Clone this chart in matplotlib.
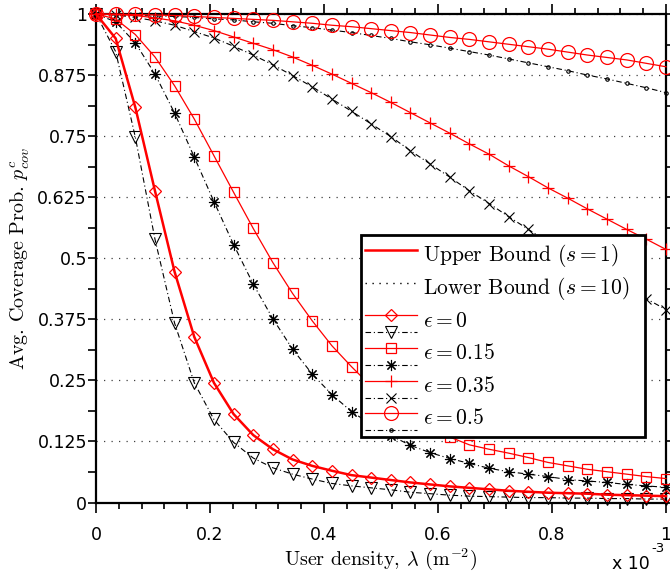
import matplotlib
matplotlib.use("Agg")
import matplotlib.pyplot as plt
import numpy as np
from matplotlib.legend_handler import HandlerLine2D
from matplotlib.lines import Line2D
from matplotlib.ticker import MultipleLocator, FuncFormatter

plt.rcParams['mathtext.fontset'] = 'cm'

# user density (m^-2), 30 evaluation points
lam = np.linspace(0, 1e-3, 30)

# coverage probability, upper bound (s=1) and lower bound (s=10)
eps0_up = [1.0, 0.950, 0.809, 0.638, 0.472, 0.339, 0.245, 0.181, 0.138, 0.109,
           0.088, 0.075, 0.065, 0.056, 0.051, 0.046, 0.041, 0.037, 0.033, 0.030,
           0.027, 0.024, 0.022, 0.020, 0.019, 0.018, 0.016, 0.015, 0.014, 0.013]
eps0_lo = [1.0, 0.923, 0.748, 0.539, 0.367, 0.245, 0.170, 0.123, 0.091, 0.071,
           0.058, 0.048, 0.039, 0.034, 0.030, 0.026, 0.021, 0.018, 0.015, 0.013,
           0.012, 0.011, 0.010, 0.010, 0.009, 0.009, 0.008, 0.008, 0.007, 0.007]
eps15_up = [1.0, 0.990, 0.958, 0.912, 0.853, 0.785, 0.710, 0.635, 0.561, 0.491,
            0.428, 0.372, 0.321, 0.278, 0.238, 0.204, 0.176, 0.153, 0.134, 0.118,
            0.109, 0.101, 0.092, 0.082, 0.075, 0.068, 0.063, 0.058, 0.053, 0.049]
eps15_lo = [1.0, 0.984, 0.941, 0.877, 0.797, 0.707, 0.616, 0.528, 0.447, 0.376,
            0.314, 0.263, 0.221, 0.186, 0.160, 0.137, 0.117, 0.102, 0.090, 0.080,
            0.070, 0.063, 0.058, 0.053, 0.047, 0.044, 0.041, 0.037, 0.034, 0.031]
eps35_up = [1.0, 0.999, 0.997, 0.992, 0.986, 0.977, 0.966, 0.953, 0.940, 0.927,
            0.912, 0.895, 0.877, 0.858, 0.839, 0.819, 0.798, 0.777, 0.756, 0.734,
            0.713, 0.689, 0.667, 0.644, 0.623, 0.601, 0.580, 0.559, 0.539, 0.518]
eps35_lo = [1.0, 0.998, 0.993, 0.986, 0.977, 0.964, 0.951, 0.934, 0.916, 0.896,
            0.874, 0.851, 0.826, 0.801, 0.775, 0.749, 0.720, 0.693, 0.666, 0.638,
            0.612, 0.585, 0.559, 0.533, 0.508, 0.484, 0.461, 0.439, 0.417, 0.395]
eps50_up = [1.0, 0.9995, 0.999, 0.998, 0.997, 0.995, 0.993, 0.991, 0.989, 0.987,
            0.984, 0.981, 0.977, 0.974, 0.970, 0.966, 0.962, 0.957, 0.952, 0.948,
            0.943, 0.938, 0.933, 0.928, 0.922, 0.916, 0.911, 0.906, 0.899, 0.892]
eps50_lo = [1.0, 0.998, 0.997, 0.996, 0.995, 0.993, 0.990, 0.988, 0.984, 0.981,
            0.976, 0.972, 0.967, 0.962, 0.956, 0.950, 0.943, 0.937, 0.930, 0.923,
            0.916, 0.908, 0.900, 0.892, 0.884, 0.875, 0.867, 0.858, 0.849, 0.839]

eps_labels = [r'$\epsilon=0$', r'$\epsilon=0.15$', r'$\epsilon=0.35$', r'$\epsilon=0.5$']
x_ticks = [0, 0.2e-3, 0.4e-3, 0.6e-3, 0.8e-3, 1e-3]
y_ticks = [0, 0.125, 0.25, 0.375, 0.5, 0.625, 0.75, 0.875, 1]

RED = '#ff0000'
dashdot = (0, (5, 2.5, 1, 2.5))
serif = 'cmr10'


class PairHandler(HandlerLine2D):
    # red curve on the text row, black curve one half-row below
    def create_artists(self, legend, orig_handle, xdescent, ydescent,
                       width, height, fontsize, trans):
        out = []
        for h, dy in zip(orig_handle, (0.0, -12.2)):
            arts = super().create_artists(legend, h, xdescent, ydescent,
                                          width, height, fontsize, trans)
            for a in arts:
                a.set_ydata(np.asarray(a.get_ydata()) + dy)
            out += arts
        return out


fig = plt.figure(figsize=(6.7, 5.78), dpi=100)
ax = fig.add_axes([96/670, 1-502.5/578, 570/670, 488.5/578])

ups = [(eps0_up, 'D', 6.5, 1.8), (eps15_up, 's', 7.5, 0.9),
       (eps35_up, '+', 8, 0.9), (eps50_up, 'o', 10, 0.9)]
los = [(eps0_lo, 'v', 8.5), (eps15_lo, (8, 2, 0), 8),
       (eps35_lo, 'x', 6.5), (eps50_lo, '.', 5)]

pairs = []
for (yu, mu, su, lw), (yl, ml, sl) in zip(ups, los):
    lb, = ax.plot(lam, yl, color='k', lw=0.8, linestyle=dashdot, marker=ml,
                  ms=sl, mfc='none', mec='k', mew=0.8, clip_on=False, zorder=2)
    lr, = ax.plot(lam, yu, color=RED, lw=lw, marker=mu, ms=su, mfc='none',
                  mec=RED, mew=0.9, clip_on=False, zorder=3)
    pairs.append((lr, lb))
# thin legend handle for eps=0
pairs[0] = (Line2D([], [], color=RED, lw=0.9, marker='D', ms=6.5, mfc='none',
                   mec=RED, mew=0.9), pairs[0][1])

ax.set_xlim(0, 1e-3)
ax.set_ylim(0, 1)
ax.set_xticks(x_ticks)
ax.xaxis.set_minor_locator(MultipleLocator(0.04e-3))
ax.xaxis.set_major_formatter(FuncFormatter(lambda v, p: f"{v*1e3:g}"))
ax.set_yticks(y_ticks)
ax.yaxis.set_minor_locator(MultipleLocator(0.0625))
ax.yaxis.set_major_formatter(FuncFormatter(lambda v, p: f"{v:g}"))

ax.yaxis.grid(True, which='major', linestyle=(0, (1, 5)), color='0.25', lw=0.9)
ax.set_axisbelow(True)

for s in ax.spines.values():
    s.set_linewidth(1.6)
ax.tick_params(axis='both', which='both', direction='out', top=True, right=True,
               width=1.2, labelsize=12.5, colors='k')
ax.tick_params(axis='x', which='major', length=7, pad=10)
ax.tick_params(axis='x', which='minor', length=4.5)
ax.tick_params(axis='y', which='both', length=5.5, pad=1)

ax.set_xlabel(r'User density, $\lambda$ (m$^{-2}$)', family=serif, fontsize=14.5)
ax.xaxis.set_label_coords(0.5, -0.09)
ax.set_ylabel(r'Avg. Coverage Prob. $p^c_{cov}$', family=serif, fontsize=14.5)
ax.yaxis.set_label_coords(-0.113, 0.5)

fig.text(650/670, 1-564/578, 'x 10', ha='right', va='center', fontsize=12.5)
fig.text(651/670, 1-548/578, '-3', ha='left', va='center', fontsize=9.5)

handles = [Line2D([], [], color=RED, lw=1.8),
           Line2D([], [], color='k', lw=1.0, linestyle=(0, (1, 4)))] + pairs
labels = [r'Upper Bound ($s=1$)', r'Lower Bound ($s=10$)'] + eps_labels
leg = ax.legend(handles, labels, handler_map={tuple: PairHandler(numpoints=1)},
                loc='upper left', bbox_to_anchor=(0.465, 0.124, 0.498, 0.424),
                mode='expand', borderaxespad=0, prop={'family': serif, 'size': 15.5},
                handlelength=2.4, handletextpad=0.3, handleheight=1.8,
                labelspacing=0.1, borderpad=0.2, fancybox=False,
                framealpha=1, edgecolor='k')
leg.get_frame().set_linewidth(2.0)
leg.set_zorder(10)

fig.savefig('out.png', dpi=100)
